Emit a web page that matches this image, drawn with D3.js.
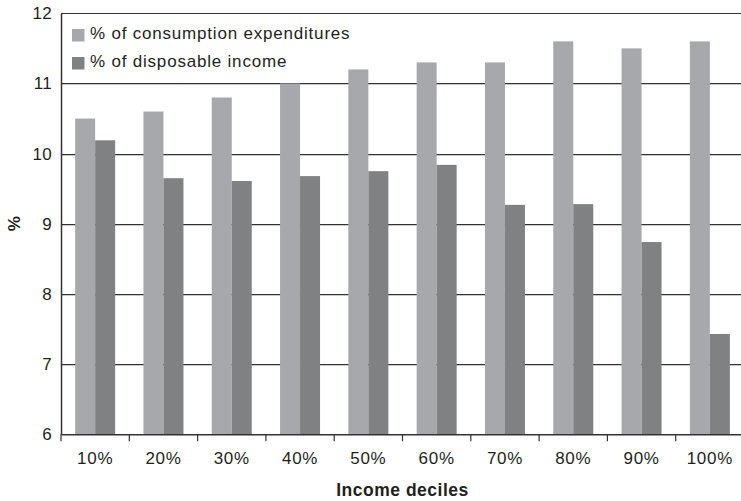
<!DOCTYPE html>
<html>
<head>
<meta charset="utf-8">
<script src="https://cdn.jsdelivr.net/npm/d3@7"></script>
<style>
  html, body { margin: 0; padding: 0; background: #fff; }
  svg { display: block; font-family: "Liberation Sans", Arial, Helvetica, sans-serif; }
</style>
</head>
<body>
<svg id="chart" width="741" height="501"></svg>
<script>
const categories = ["10%", "20%", "30%", "40%", "50%", "60%", "70%", "80%", "90%", "100%"];
const seriesNames = ["% of consumption expenditures", "% of disposable income"];
const consumption = [10.5, 10.6, 10.8, 11.0, 11.2, 11.3, 11.3, 11.6, 11.5, 11.6];
const disposable = [10.19, 9.65, 9.61, 9.68, 9.75, 9.84, 9.27, 9.28, 8.74, 7.43];
const yTicks = [6, 7, 8, 9, 10, 11, 12];
const colors = ["#a7a8ab", "#808183"];

(function () {
const svg = d3.select("#chart");
const pLeft = 61, pRight = 744, pTop = 13.3, pBottom = 434.3;

const x0 = d3.scaleBand().domain(categories).range([pLeft, pRight]).paddingInner(0).paddingOuter(0);
const x1 = d3.scaleBand().domain(seriesNames).range([0, x0.bandwidth()]).paddingInner(0).paddingOuter(0.707);
const y = d3.scaleLinear().domain([6, 12]).range([pBottom, pTop]);

const values = [consumption, disposable];

// gridlines
const grid = svg.append("g");
yTicks.filter(t => t > 6).forEach(t => {
  if (t < 12) {
    grid.append("line")
      .attr("x1", pLeft).attr("x2", pRight)
      .attr("y1", Math.round(y(t)) + 1.5).attr("y2", Math.round(y(t)) + 1.5)
      .attr("stroke", "#c8c8c8").attr("stroke-width", 1);
  }
  grid.append("line")
    .attr("x1", pLeft).attr("x2", pRight)
    .attr("y1", Math.round(y(t)) + 0.5).attr("y2", Math.round(y(t)) + 0.5)
    .attr("stroke", "#333").attr("stroke-width", 1.2);
});

// bars
seriesNames.forEach((s, si) => {
  svg.append("g").selectAll("rect")
    .data(categories)
    .join("rect")
    .attr("x", (c) => x0(c) + x1(s))
    .attr("width", x1.bandwidth())
    .attr("y", (c, i) => y(values[si][i]))
    .attr("height", (c, i) => y(6) - y(values[si][i]))
    .attr("fill", colors[si]);
});

// y axis
const yAxis = svg.append("g")
  .attr("transform", `translate(${pLeft},0)`)
  .call(d3.axisLeft(y).tickValues(yTicks).tickSize(0).tickPadding(9).tickFormat(d3.format("d")));
yAxis.select(".domain").attr("stroke", "#333").attr("stroke-width", 1.5);
yAxis.selectAll("text").attr("font-size", 17).attr("fill", "#231f20")
  .attr("font-family", "Liberation Sans, Arial, sans-serif").attr("letter-spacing", 0.3);

// x axis
const xAxis = svg.append("g")
  .attr("transform", `translate(0,${pBottom})`)
  .call(d3.axisBottom(x0).tickSize(0).tickPadding(18));
xAxis.select(".domain").attr("stroke", "#333").attr("stroke-width", 1.5);
xAxis.selectAll("text").attr("font-size", 17).attr("fill", "#231f20")
  .attr("font-family", "Liberation Sans, Arial, sans-serif").attr("letter-spacing", 0.7);
// boundary tick marks
xAxis.selectAll("line.bnd")
  .data(categories.concat([null]))
  .join("line")
  .attr("class", "bnd")
  .attr("x1", (c) => c === null ? x0.range()[1] : x0(c))
  .attr("x2", (c) => c === null ? x0.range()[1] : x0(c))
  .attr("y1", 0).attr("y2", 7)
  .attr("stroke", "#333").attr("stroke-width", 1.2);

// axis titles
svg.append("text")
  .attr("transform", `translate(20,${(pTop + pBottom) / 2}) rotate(-90)`)
  .attr("text-anchor", "middle")
  .attr("font-size", 17).attr("font-weight", "bold").attr("fill", "#231f20")
  .text("%");
svg.append("text")
  .attr("x", (pLeft + pRight) / 2).attr("y", 496)
  .attr("text-anchor", "middle")
  .attr("font-size", 17.5).attr("font-weight", "bold").attr("fill", "#231f20")
  .attr("letter-spacing", 0.5)
  .text("Income deciles");

// legend
const legend = svg.append("g").attr("transform", "translate(72,29)");
seriesNames.forEach((s, i) => {
  const g = legend.append("g").attr("transform", `translate(0,${i * 28})`);
  g.append("rect").attr("width", 12.5).attr("height", 12.5).attr("fill", colors[i]);
  g.append("text").attr("x", 18).attr("y", 10)
    .attr("font-size", 17).attr("fill", "#231f20").attr("letter-spacing", 0.8).text(s);
});
})();
</script>
</body>
</html>
